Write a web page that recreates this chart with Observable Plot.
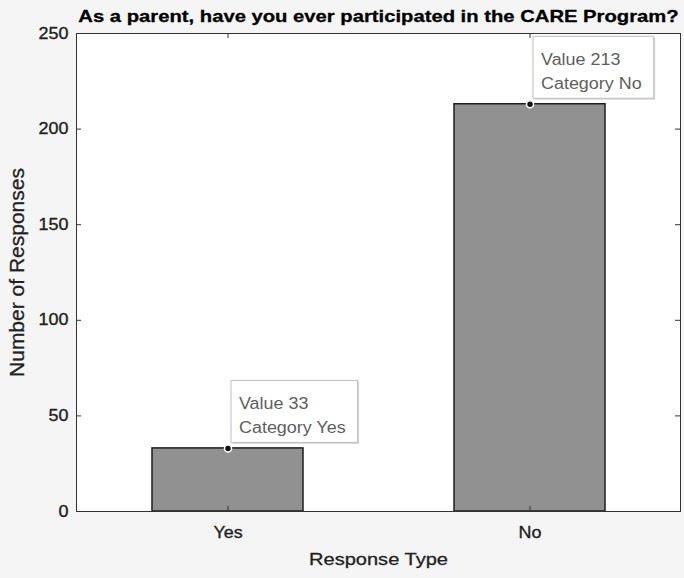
<!DOCTYPE html>
<html><head><meta charset="utf-8">
<script src="https://cdn.jsdelivr.net/npm/d3@7"></script>
<script src="https://cdn.jsdelivr.net/npm/@observablehq/plot@0.6"></script>
<style>
html,body{margin:0;padding:0;background:#f5f5f5;}
#chart svg{display:block;}
</style></head><body><div id="chart"></div>
<script>
const title = "As a parent, have you ever participated in the CARE Program?";
const categories = ["Yes", "No"];
const responses = [33, 213];
const yTicks = [0, 50, 100, 150, 200, 250];
const xLabel = "Response Type";
const yLabel = "Number of Responses";

const data = categories.map((c, i) => ({category: c, value: responses[i]}));

const W = 684, H = 578;
const mL = 76, mR = 4, mT = 33, mB = 67;
const pw = W - mL - mR, ph = H - mT - mB;
const font = "'Liberation Sans', Arial, Helvetica, sans-serif";
const ink = "#222";

const plot = Plot.plot({
  width: W, height: H,
  marginLeft: mL, marginRight: mR, marginTop: mT, marginBottom: mB,
  style: {background: "#f5f5f5", fontFamily: font, overflow: "visible"},
  x: {domain: categories, paddingInner: 0.5, paddingOuter: 0.25, axis: null},
  y: {domain: [0, 250], axis: null},
  marks: [
    Plot.frame({fill: "white", stroke: null}),
    Plot.barY(data, {x: "category", y: "value", fill: "#919191", stroke: "#1e1e1e", strokeWidth: 1.5}),
    Plot.tickY(yTicks, {y: d => d, stroke: "#333", insetRight: pw - 5}),
    Plot.tickY(yTicks, {y: d => d, stroke: "#333", insetLeft: pw - 5}),
    Plot.tickX(categories, {x: d => d, stroke: "#333", insetTop: ph - 5}),
    Plot.tickX(categories, {x: d => d, stroke: "#333", insetBottom: ph - 5}),
    Plot.frame({stroke: "#333", strokeWidth: 1}),
    Plot.text(yTicks, {y: d => d, text: d => String(d), frameAnchor: "left", dx: -8, textAnchor: "end", fontSize: 16, fill: ink, stroke: ink, strokeWidth: 0.35}),
    Plot.text(categories, {x: d => d, text: d => d, frameAnchor: "bottom", dy: 15, lineAnchor: "top", fontSize: 16, fill: ink, stroke: ink, strokeWidth: 0.35}),
    Plot.text([xLabel], {text: d => d, frameAnchor: "bottom", dy: 53, lineAnchor: "bottom", fontSize: 17, fill: ink, stroke: ink, strokeWidth: 0.3}),
    Plot.text([yLabel], {text: d => d, frameAnchor: "left", dx: -59, rotate: -90, textAnchor: "middle", fontSize: 21, fill: ink, stroke: ink, strokeWidth: 0.3}),
    Plot.text([title], {text: d => d, frameAnchor: "top", dy: -12, lineAnchor: "bottom", textAnchor: "middle", fontSize: 17, fontWeight: "bold", fill: "#000", stroke: "#000", strokeWidth: 0.3}),
    Plot.dot(data, {x: "category", y: "value", r: 3.5, fill: "#111", stroke: "white", strokeWidth: 1.5}),
    Plot.text(data, {x: "category", y: "value", text: d => `Value ${d.value}`, dx: 11, dy: -39, textAnchor: "start", lineAnchor: "bottom", fontSize: 16, fill: "#5e5e5e"}),
    Plot.text(data, {x: "category", y: "value", text: d => `Category ${d.category}`, dx: 11, dy: -15, textAnchor: "start", lineAnchor: "bottom", fontSize: 16, fill: "#5e5e5e"})
  ]
});

document.getElementById("chart").appendChild(plot);

// horizontal stretch of text to match the reference's wide lettering
const svg = plot;
const texts = Array.from(svg.querySelectorAll("text"));
const factorFor = (s) => {
  if (s === title) return 1.19;
  if (s === xLabel) return 1.18;
  if (s === yLabel) return 1.0;
  return 1.12;
};
texts.forEach(el => {
  const s = el.textContent;
  const k = factorFor(s);
  if (k !== 1) {
    const len = el.getComputedTextLength();
    el.setAttribute("textLength", (len * k).toFixed(1));
    el.setAttribute("lengthAdjust", "spacingAndGlyphs");
  }
});

// datatip boxes
const sr = svg.getBoundingClientRect();
const circles = Array.from(svg.querySelectorAll("circle"));
const ns = "http://www.w3.org/2000/svg";
data.forEach((d, i) => {
  const c = circles[i];
  if (!c) return;
  const cr = c.getBoundingClientRect();
  const cx = cr.x + cr.width / 2 - sr.x, cy = cr.y + cr.height / 2 - sr.y;
  const l1 = texts.find(t => t.textContent === `Value ${d.value}`);
  const l2 = texts.find(t => t.textContent === `Category ${d.category}`);
  const right = Math.max(l1.getBoundingClientRect().right, l2.getBoundingClientRect().right) - sr.x;
  const x = cx + 3, y = cy - 68, w = right + 12 - x, h = 62;
  const g = document.createElementNS(ns, "g");
  const sh = document.createElementNS(ns, "rect");
  sh.setAttribute("x", x + 1.5); sh.setAttribute("y", y + 1.5);
  sh.setAttribute("width", w); sh.setAttribute("height", h);
  sh.setAttribute("fill", "#d8d8d8");
  const r = document.createElementNS(ns, "rect");
  r.setAttribute("x", x); r.setAttribute("y", y);
  r.setAttribute("width", w); r.setAttribute("height", h);
  r.setAttribute("fill", "white"); r.setAttribute("stroke", "#bdbdbd"); r.setAttribute("stroke-width", 1);
  g.appendChild(sh); g.appendChild(r);
  const grp = l1.parentNode;
  if (grp.parentNode === svg) svg.insertBefore(g, grp); else svg.appendChild(g);
});
</script>
</body></html>
